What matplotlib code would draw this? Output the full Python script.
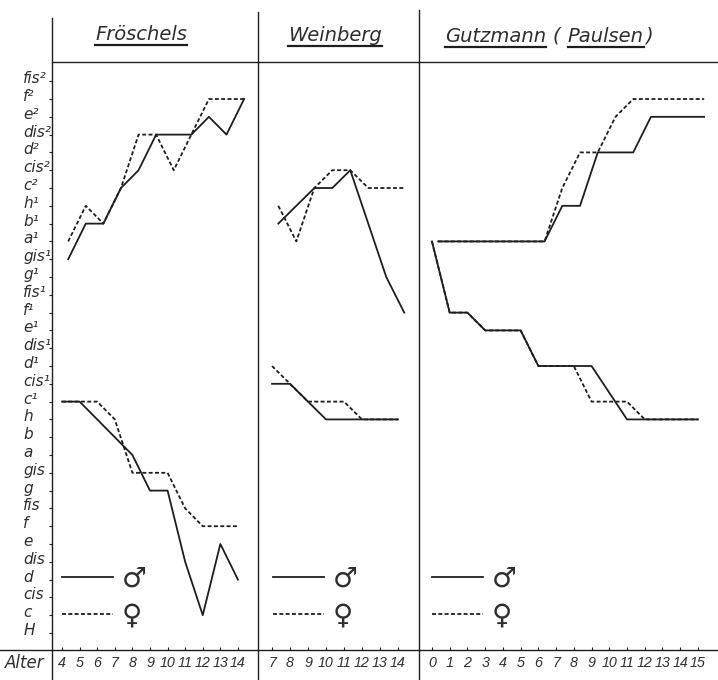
import matplotlib
matplotlib.use('Agg')
import matplotlib.pyplot as plt
from matplotlib.lines import Line2D
from matplotlib.transforms import ScaledTranslation

# Tonnamen von H (0) bis fis² (31), ein Halbton pro Schritt
noten = ['H', 'c', 'cis', 'd', 'dis', 'e', 'f', 'fis', 'g', 'gis', 'a', 'b', 'h',
         'c¹', 'cis¹', 'd¹', 'dis¹', 'e¹', 'f¹', 'fis¹', 'g¹', 'gis¹', 'a¹', 'b¹', 'h¹',
         'c²', 'cis²', 'd²', 'dis²', 'e²', 'f²', 'fis²']

# Fröschels
froeschels_alter = [4, 5, 6, 7, 8, 9, 10, 11, 12, 13, 14]
froeschels_oben_m = [21, 23, 23, 25, 26, 28, 28, 28, 29, 28, 30]
froeschels_oben_w = [22, 24, 23, 25, 28, 28, 26, 28, 30, 30, 30]
froeschels_unten_m = [13, 13, 12, 11, 10, 8, 8, 4, 1, 5, 3]
froeschels_unten_w = [13, 13, 13, 12, 9, 9, 9, 7, 6, 6, 6]

# Weinberg
weinberg_alter = [7, 8, 9, 10, 11, 12, 13, 14]
weinberg_oben_m = [23, 24, 25, 25, 26, 23, 20, 18]
weinberg_oben_w = [24, 22, 25, 26, 26, 25, 25, 25]
weinberg_unten_m = [14, 14, 13, 12, 12, 12, 12, 12]
weinberg_unten_w = [15, 14, 13, 13, 13, 12, 12, 12]

# Gutzmann (Paulsen)
gutzmann_alter = [0, 1, 2, 3, 4, 5, 6, 7, 8, 9, 10, 11, 12, 13, 14, 15]
gutzmann_oben_m = [22, 22, 22, 22, 22, 22, 22, 24, 24, 27, 27, 27, 29, 29, 29, 29]
gutzmann_oben_w = [22, 22, 22, 22, 22, 22, 22, 25, 27, 27, 29, 30, 30, 30, 30, 30]
gutzmann_unten_m = [22, 18, 18, 17, 17, 17, 15, 15, 15, 15, 13.5, 12, 12, 12, 12, 12]
gutzmann_unten_w = [22, 18, 18, 17, 17, 17, 15, 15, 15, 13, 13, 13, 12, 12, 12, 12]

W, H = 718, 680
LINIE = '#1e1e1e'
TEXT = '#2e2e2e'
LW = 1.3
STRICH = (0, (2.2, 1.3))
OBEN_VERSATZ = 0.35  # obere Kurven sind im Original leicht nach rechts verschoben

fig = plt.figure(figsize=(W / 100, H / 100), dpi=100)
fig.patch.set_facecolor('white')
renderer = fig.canvas.get_renderer()

panels = [
    (froeschels_alter, froeschels_oben_m, froeschels_oben_w, froeschels_unten_m, froeschels_unten_w,
     (52, 258), (3.43, 15.14), 0.049),
    (weinberg_alter, weinberg_oben_m, weinberg_oben_w, weinberg_unten_m, weinberg_unten_w,
     (258, 419), (6.22, 15.17), 0.093),
    (gutzmann_alter, gutzmann_oben_m, gutzmann_oben_w, gutzmann_unten_m, gutzmann_unten_w,
     (419, 718), (-0.73, 16.13), 0.043),
]

for i, (alter, om, ow, um, uw, (x0, x1), xlim, legx) in enumerate(panels):
    ax = fig.add_axes([x0 / W, 30 / H, (x1 - x0) / W, 588 / H])
    ax.set_xlim(*xlim)
    ax.set_ylim(-0.955, 32.08)
    for s in ['left', 'right']:
        ax.spines[s].set_visible(False)
    for s in ['top', 'bottom']:
        ax.spines[s].set_color(LINIE)
        ax.spines[s].set_linewidth(1.0)

    ob = [a + OBEN_VERSATZ for a in alter]
    ax.plot(ob, om, color=LINIE, lw=LW)
    ax.plot(ob, ow, color=LINIE, lw=LW, ls=STRICH)
    ax.plot(alter, um, color=LINIE, lw=LW)
    ax.plot(alter, uw, color=LINIE, lw=LW, ls=STRICH)

    ax.set_xticks(alter)
    ax.set_xticklabels([str(a) for a in alter], fontstyle='italic', fontsize=10.3,
                       family='Liberation Sans', color=TEXT)
    ax.tick_params(axis='x', direction='in', length=2.5, pad=4.5, color=LINIE)

    if i == 0:
        ax.set_yticks(range(len(noten)))
        ax.set_yticklabels(noten, fontstyle='italic', fontsize=11, color=TEXT, ha='left')
        ax.tick_params(axis='y', direction='out', length=2.2, pad=18.5, color=LINIE)
        for lab in ax.get_yticklabels():
            lab.set_transform(lab.get_transform() + ScaledTranslation(0, 0.04, fig.dpi_scale_trans))
    else:
        ax.set_yticks([])

    handles = [Line2D([], [], color=LINIE, lw=LW), Line2D([], [], color=LINIE, lw=LW, ls=STRICH)]
    leg = ax.legend(handles, ['♂', '♀'], loc='center left', bbox_to_anchor=(legx, 0.09),
                    frameon=False, fontsize=20, handlelength=1.85, handletextpad=0.3,
                    labelspacing=0.3, borderpad=0, borderaxespad=0)
    for t in leg.get_texts():
        t.set_color(TEXT)

# senkrechte Trennlinien, ragen oben und unten über die Achsen hinaus
for x, ytop in [(52, 18), (258, 12), (419, 10)]:
    fig.add_artist(Line2D([x / W, x / W], [0, 1 - ytop / H], color=LINIE, lw=1.0))
# untere Linie läuft unter "Alter" weiter
fig.add_artist(Line2D([0, 52 / W], [30 / H, 30 / H], color=LINIE, lw=1.0))
fig.text(5 / W, 1 - 663 / H, 'Alter', fontstyle='italic', fontsize=12, color=TEXT, va='center')


def titel(x, y, teile):
    # teile: (Text, unterstrichen, Abstand danach in Pixeln)
    for s, strich, luecke in teile:
        t = fig.text(x / W, 1 - y / H, s, fontstyle='italic', fontsize=14, color=TEXT,
                     ha='left', va='baseline')
        bb = t.get_window_extent(renderer)
        if strich:
            fig.add_artist(Line2D([bb.x0 / W, bb.x1 / W], [1 - (y + 5) / H] * 2,
                                  color=LINIE, lw=1.6))
        x = bb.x1 + luecke


titel(95, 40, [('Fröschels', True, 0)])
titel(288, 41, [('Weinberg', True, 0)])
titel(445, 42, [('Gutzmann', True, 6), ('(', False, 8), ('Paulsen', True, 1), (')', False, 0)])

plt.savefig('out.png', dpi=100)
